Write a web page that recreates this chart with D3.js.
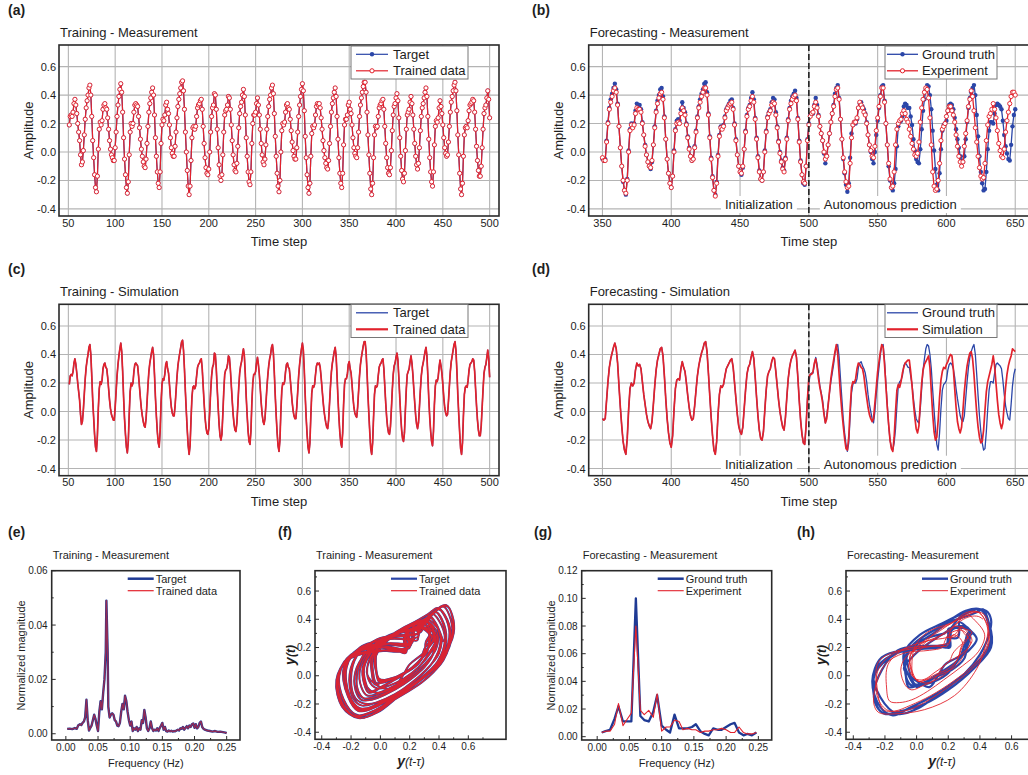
<!DOCTYPE html>
<html>
<head>
<meta charset="utf-8">
<script src="https://cdn.jsdelivr.net/npm/d3@7"></script>
<style>
  body { margin: 0; background: #fff; }
  svg text { font-family: "Liberation Sans", Arial, Helvetica, sans-serif; fill: #1e1e1e; }
</style>
</head>
<body>
<svg id="fig" width="1028" height="775"></svg>
<script>
// ---------------- data ----------------
// Training sequence, time steps 51..500 (target; the trained readout overlaps it)
const trainStart = 51;
const trainSeries = [
  0.19,0.25,0.26,0.25,0.28,0.34,0.37,0.33,0.27,0.20,
  0.14,0.08,-0.02,-0.09,-0.07,0.01,0.12,0.23,0.31,0.36,
  0.40,0.45,0.47,0.40,0.25,0.08,-0.04,-0.16,-0.25,-0.28,
  -0.17,0.02,0.16,0.21,0.19,0.22,0.30,0.33,0.34,0.31,
  0.30,0.24,0.16,0.08,0.02,-0.02,-0.04,-0.06,-0.06,0.03,
  0.14,0.25,0.33,0.39,0.44,0.48,0.42,0.28,0.10,-0.05,
  -0.16,-0.25,-0.29,-0.21,-0.02,0.14,0.20,0.18,0.20,0.28,
  0.33,0.34,0.33,0.32,0.25,0.17,0.09,0.02,-0.03,-0.07,
  -0.10,-0.11,-0.05,0.06,0.18,0.28,0.34,0.38,0.42,0.45,
  0.40,0.26,0.10,-0.03,-0.14,-0.22,-0.25,-0.14,0.06,0.19,
  0.23,0.22,0.26,0.33,0.35,0.30,0.27,0.19,0.10,0.03,
  -0.01,-0.03,-0.03,0.04,0.14,0.24,0.32,0.37,0.41,0.45,
  0.49,0.50,0.43,0.30,0.14,0.00,-0.13,-0.24,-0.30,-0.24,
  -0.06,0.10,0.17,0.18,0.16,0.18,0.25,0.31,0.33,0.34,
  0.36,0.37,0.30,0.18,0.06,-0.04,-0.11,-0.15,-0.16,-0.12,
  0.00,0.14,0.25,0.31,0.33,0.41,0.40,0.30,0.16,0.03,
  -0.09,-0.17,-0.20,-0.16,-0.02,0.14,0.26,0.29,0.30,0.33,
  0.39,0.38,0.30,0.19,0.08,-0.02,-0.09,-0.13,-0.14,-0.08,
  0.04,0.17,0.27,0.32,0.35,0.40,0.44,0.39,0.26,0.10,
  -0.03,-0.14,-0.21,-0.23,-0.14,0.06,0.20,0.26,0.26,0.28,
  0.34,0.38,0.33,0.26,0.16,0.06,-0.02,-0.07,-0.09,-0.05,
  0.05,0.16,0.25,0.32,0.37,0.40,0.45,0.47,0.41,0.27,
  0.11,-0.03,-0.15,-0.24,-0.28,-0.20,0.00,0.15,0.20,0.19,
  0.21,0.28,0.33,0.34,0.31,0.30,0.23,0.15,0.07,0.01,
  -0.03,-0.05,-0.05,0.03,0.14,0.25,0.33,0.39,0.44,0.48,
  0.43,0.29,0.11,-0.04,-0.16,-0.25,-0.29,-0.22,-0.03,0.13,
  0.18,0.17,0.19,0.26,0.32,0.34,0.33,0.34,0.31,0.24,
  0.16,0.08,0.01,-0.04,-0.08,-0.11,-0.12,-0.06,0.06,0.18,
  0.28,0.34,0.38,0.42,0.45,0.39,0.25,0.09,-0.04,-0.15,
  -0.22,-0.25,-0.15,0.05,0.19,0.23,0.23,0.26,0.33,0.35,
  0.30,0.27,0.19,0.10,0.03,-0.01,-0.03,-0.04,0.03,0.14,
  0.25,0.33,0.38,0.42,0.46,0.49,0.49,0.42,0.28,0.12,
  -0.02,-0.15,-0.26,-0.30,-0.22,-0.04,0.12,0.18,0.17,0.18,
  0.25,0.31,0.33,0.34,0.36,0.37,0.30,0.18,0.06,-0.04,
  -0.11,-0.15,-0.16,-0.11,0.01,0.15,0.26,0.32,0.34,0.38,
  0.41,0.36,0.24,0.10,-0.03,-0.13,-0.19,-0.21,-0.15,0.01,
  0.16,0.26,0.28,0.30,0.35,0.39,0.34,0.26,0.16,0.06,
  -0.03,-0.09,-0.12,-0.08,0.03,0.15,0.25,0.31,0.34,0.38,
  0.42,0.45,0.39,0.25,0.09,-0.04,-0.14,-0.21,-0.24,-0.14,
  0.05,0.18,0.22,0.21,0.24,0.31,0.36,0.32,0.27,0.19,
  0.10,0.03,-0.01,-0.03,-0.02,0.07,0.18,0.28,0.35,0.39,
  0.43,0.47,0.49,0.43,0.29,0.12,-0.02,-0.15,-0.26,-0.30,
  -0.22,-0.03,0.12,0.17,0.18,0.17,0.22,0.29,0.33,0.34,
  0.35,0.37,0.36,0.28,0.16,0.04,-0.06,-0.13,-0.17,-0.17,
  -0.10,0.03,0.16,0.27,0.31,0.33,0.38,0.43,0.37,0.24
];

// Test sequence, time steps 350..650
const testStart = 350;
const autoStart = 500;
const groundTruth = [
  -0.05,-0.06,-0.05,0.08,0.21,0.31,0.37,0.41,0.45,0.48,
  0.44,0.34,0.18,0.03,-0.10,-0.21,-0.27,-0.30,-0.19,0.01,
  0.16,0.20,0.18,0.20,0.29,0.34,0.32,0.33,0.30,0.21,
  0.12,0.05,-0.02,-0.07,-0.10,-0.12,-0.07,0.05,0.18,0.29,
  0.36,0.40,0.44,0.45,0.39,0.25,0.09,-0.05,-0.15,-0.22,
  -0.25,-0.17,0.01,0.16,0.22,0.23,0.22,0.30,0.35,0.31,
  0.28,0.20,0.11,0.03,-0.03,-0.06,-0.05,0.04,0.15,0.25,
  0.32,0.37,0.41,0.44,0.48,0.49,0.42,0.27,0.11,-0.04,
  -0.17,-0.27,-0.30,-0.21,-0.02,0.12,0.18,0.17,0.19,0.25,
  0.30,0.32,0.34,0.36,0.37,0.31,0.20,0.09,-0.02,-0.10,
  -0.14,-0.16,-0.11,0.02,0.15,0.26,0.31,0.33,0.38,0.42,
  0.37,0.24,0.10,-0.03,-0.13,-0.19,-0.20,-0.14,0.01,0.15,
  0.25,0.28,0.30,0.35,0.38,0.37,0.28,0.18,0.08,0.00,
  -0.06,-0.11,-0.13,-0.04,0.10,0.23,0.31,0.36,0.39,0.41,
  0.43,0.38,0.24,0.08,-0.06,-0.16,-0.22,-0.23,-0.10,0.09,
  0.20,0.26,0.27,0.27,0.33,0.38,0.33,0.26,0.18,0.13,
  0.08,-0.01,-0.08,-0.03,0.05,0.13,0.21,0.27,0.33,0.41,
  0.45,0.47,0.38,0.23,0.09,-0.05,-0.15,-0.23,-0.28,-0.22,
  -0.04,0.13,0.19,0.21,0.20,0.23,0.31,0.34,0.35,0.32,
  0.30,0.27,0.21,0.12,0.05,0.00,-0.05,-0.08,0.00,0.12,
  0.22,0.31,0.40,0.46,0.47,0.36,0.20,0.05,-0.10,-0.20,
  -0.25,-0.27,-0.22,-0.12,0.04,0.18,0.21,0.22,0.25,0.32,
  0.34,0.33,0.31,0.31,0.25,0.19,0.09,0.01,-0.05,-0.07,
  -0.08,0.02,0.16,0.29,0.37,0.44,0.47,0.46,0.40,0.30,
  0.15,0.01,-0.12,-0.23,-0.27,-0.15,0.02,0.15,0.19,0.20,
  0.22,0.29,0.33,0.34,0.33,0.30,0.24,0.16,0.09,0.03,
  -0.03,-0.06,-0.07,-0.03,0.09,0.21,0.31,0.38,0.42,0.45,
  0.47,0.40,0.26,0.11,-0.03,-0.14,-0.22,-0.27,-0.26,-0.14,
  0.02,0.15,0.21,0.21,0.20,0.27,0.33,0.34,0.33,0.32,
  0.30,0.22,0.12,0.04,-0.01,-0.05,-0.06,0.05,0.18,0.26,
  0.30
];
// Measured reservoir output, 350..650 (teacher-forced up to 500, autonomous after)
const experiment = [
  -0.04,-0.06,-0.06,0.07,0.20,0.30,0.35,0.39,0.43,0.45,
  0.42,0.33,0.18,0.03,-0.10,-0.20,-0.27,-0.29,-0.20,0.00,
  0.15,0.19,0.17,0.19,0.27,0.31,0.30,0.30,0.28,0.20,
  0.12,0.04,-0.02,-0.07,-0.10,-0.11,-0.06,0.05,0.17,0.28,
  0.34,0.38,0.41,0.42,0.37,0.24,0.09,-0.05,-0.15,-0.22,
  -0.25,-0.17,0.00,0.15,0.20,0.21,0.20,0.27,0.31,0.29,
  0.26,0.19,0.10,0.02,-0.03,-0.06,-0.05,0.03,0.14,0.24,
  0.31,0.35,0.39,0.42,0.45,0.45,0.40,0.26,0.10,-0.05,
  -0.18,-0.27,-0.31,-0.22,-0.03,0.11,0.17,0.16,0.18,0.24,
  0.29,0.31,0.33,0.34,0.35,0.30,0.19,0.08,-0.02,-0.10,
  -0.14,-0.15,-0.10,0.02,0.14,0.25,0.30,0.32,0.36,0.39,
  0.35,0.23,0.09,-0.04,-0.14,-0.19,-0.20,-0.14,0.00,0.14,
  0.24,0.27,0.29,0.33,0.35,0.34,0.26,0.17,0.07,-0.01,
  -0.07,-0.12,-0.14,-0.05,0.09,0.22,0.30,0.34,0.37,0.39,
  0.40,0.36,0.23,0.07,-0.07,-0.16,-0.21,-0.22,-0.10,0.08,
  0.19,0.25,0.27,0.28,0.32,0.35,0.31,0.25,0.18,0.13,
  0.08,0.00,-0.05,-0.03,0.05,0.13,0.21,0.27,0.32,0.39,
  0.44,0.45,0.37,0.23,0.09,-0.04,-0.14,-0.21,-0.25,-0.24,
  -0.08,0.10,0.19,0.21,0.21,0.24,0.31,0.35,0.33,0.31,
  0.28,0.26,0.20,0.12,0.05,0.01,-0.03,-0.04,0.04,0.15,
  0.24,0.32,0.39,0.45,0.45,0.35,0.20,0.05,-0.08,-0.19,
  -0.25,-0.24,-0.14,0.05,0.16,0.20,0.22,0.23,0.27,0.29,
  0.27,0.23,0.21,0.16,0.11,0.06,0.02,-0.02,-0.03,-0.01,
  0.07,0.21,0.31,0.37,0.42,0.45,0.44,0.38,0.24,0.05,
  -0.14,-0.24,-0.27,-0.26,-0.20,-0.08,0.08,0.16,0.18,0.20,
  0.25,0.29,0.32,0.32,0.29,0.26,0.21,0.12,0.04,-0.03,
  -0.07,-0.10,-0.07,0.04,0.13,0.22,0.32,0.37,0.43,0.39,
  0.29,0.17,0.07,-0.03,-0.11,-0.17,-0.19,-0.18,-0.08,0.08,
  0.19,0.25,0.27,0.30,0.34,0.30,0.24,0.15,0.06,0.01,
  -0.03,-0.04,0.02,0.14,0.22,0.28,0.34,0.39,0.42,0.42,
  0.40
];
// Simulated reservoir, autonomous run 500..650
const simulationAuto = [
  0.24,0.26,0.26,0.28,0.34,0.37,0.31,0.23,0.17,0.12,
  0.06,-0.02,-0.08,-0.05,0.04,0.14,0.23,0.30,0.36,0.42,
  0.47,0.40,0.26,0.12,0.00,-0.10,-0.19,-0.26,-0.27,-0.18,
  0.02,0.17,0.21,0.20,0.23,0.30,0.34,0.33,0.31,0.30,
  0.25,0.17,0.10,0.03,-0.02,-0.05,-0.07,-0.05,0.06,0.17,
  0.28,0.35,0.42,0.47,0.45,0.33,0.18,0.03,-0.09,-0.20,
  -0.26,-0.28,-0.18,0.00,0.15,0.19,0.17,0.21,0.27,0.31,
  0.34,0.35,0.36,0.36,0.28,0.18,0.06,-0.04,-0.12,-0.15,
  -0.10,0.06,0.20,0.29,0.33,0.35,0.37,0.39,0.31,0.14,
  -0.02,-0.14,-0.20,-0.18,-0.06,0.10,0.22,0.28,0.31,0.30,
  0.33,0.35,0.38,0.40,0.39,0.30,0.16,0.03,-0.07,-0.12,
  -0.15,-0.11,0.01,0.14,0.24,0.32,0.37,0.41,0.42,0.37,
  0.26,0.12,-0.01,-0.11,-0.18,-0.22,-0.21,-0.13,0.01,0.14,
  0.21,0.25,0.29,0.33,0.39,0.32,0.20,0.08,-0.02,-0.08,
  -0.12,-0.08,0.05,0.17,0.26,0.32,0.36,0.39,0.44,0.43,
  0.42
];

// Normalized FFT magnitude of the training sequence: [frequency (Hz), magnitude]
const spectrumTrain = [
  [0.002,0.0018],[0.006,0.0019],[0.010,0.0017],[0.014,0.0021],[0.017,0.0018],[0.019,0.0030],
  [0.022,0.0035],[0.024,0.0032],[0.026,0.0040],[0.028,0.0045],[0.030,0.0060],[0.032,0.0125],
  [0.034,0.0050],[0.036,0.0012],[0.038,0.0022],[0.040,0.0030],[0.042,0.0050],[0.044,0.0070],
  [0.046,0.0055],[0.048,0.0030],[0.050,0.0010],[0.052,0.0080],[0.054,0.0120],[0.056,0.0090],
  [0.058,0.0150],[0.060,0.0200],[0.062,0.0300],[0.063,0.0490],[0.065,0.0300],[0.066,0.0100],
  [0.068,0.0060],[0.070,0.0070],[0.072,0.0075],[0.074,0.0070],[0.076,0.0050],[0.078,0.0045],
  [0.080,0.0030],[0.082,0.0028],[0.084,0.0040],[0.086,0.0080],[0.088,0.0110],[0.090,0.0090],
  [0.092,0.0140],[0.094,0.0120],[0.096,0.0080],[0.098,0.0050],[0.100,0.0030],[0.102,0.0045],
  [0.104,0.0010],[0.106,0.0020],[0.108,0.0015],[0.110,0.0025],[0.112,0.0010],[0.114,0.0020],
  [0.116,0.0015],[0.118,0.0050],[0.120,0.0040],[0.122,0.0088],[0.124,0.0060],[0.126,0.0020],
  [0.128,0.0010],[0.130,0.0020],[0.132,0.0045],[0.134,0.0020],[0.136,0.0010],[0.138,0.0015],
  [0.140,0.0012],[0.142,0.0020],[0.144,0.0010],[0.146,0.0022],[0.148,0.0030],[0.150,0.0040],
  [0.152,0.0015],[0.154,0.0025],[0.156,0.0010],[0.158,0.0008],[0.160,0.0012],[0.162,0.0009],
  [0.164,0.0011],[0.166,0.0008],[0.168,0.0010],[0.170,0.0009],[0.172,0.0012],[0.174,0.0015],
  [0.176,0.0012],[0.178,0.0020],[0.180,0.0018],[0.182,0.0025],[0.184,0.0015],[0.186,0.0022],
  [0.188,0.0028],[0.190,0.0020],[0.192,0.0030],[0.194,0.0025],[0.196,0.0035],[0.198,0.0038],
  [0.200,0.0022],[0.202,0.0035],[0.204,0.0020],[0.206,0.0025],[0.208,0.0040],[0.210,0.0045],
  [0.212,0.0025],[0.214,0.0018],[0.216,0.0015],[0.220,0.0012],[0.224,0.0010],[0.228,0.0008],
  [0.232,0.0010],[0.236,0.0007],[0.240,0.0008],[0.244,0.0006],[0.248,0.0004],[0.250,0.0002]
];

// Normalized FFT magnitude of the autonomous forecast window
const spectrumTestFreq = [0.007,0.013,0.020,0.027,0.033,0.040,0.047,0.053,0.060,0.067,0.073,0.080,0.087,0.093,
  0.100,0.107,0.113,0.120,0.127,0.133,0.140,0.147,0.153,0.160,0.167,0.173,0.180,0.187,0.193,0.200,
  0.207,0.213,0.220,0.227,0.233,0.240,0.247];
const spectrumGroundTruth = [0.003,0.004,0.005,0.013,0.022,0.011,0.011,0.011,0.100,0.015,0.012,0.011,0.018,0.030,
  0.008,0.005,0.003,0.016,0.006,0.006,0.006,0.007,0.009,0.004,0.002,0.001,0.006,0.005,0.005,0.007,
  0.009,0.010,0.003,0.001,0.002,0.001,0.003];
const spectrumExperiment = [0.003,0.004,0.004,0.009,0.024,0.008,0.013,0.017,0.080,0.019,0.016,0.019,0.014,0.031,
  0.004,0.007,0.007,0.012,0.011,0.005,0.006,0.005,0.005,0.003,0.004,0.004,0.005,0.005,0.006,0.005,
  0.003,0.003,0.007,0.003,0.002,0.002,0.003];

// Tick values
const trainTimeTicks = [50,100,150,200,250,300,350,400,450,500];
const testTimeTicks = [350,400,450,500,550,600,650];
const amplitudeTicks = [-0.4,-0.2,0.0,0.2,0.4,0.6];
const freqTicks = [0.00,0.05,0.10,0.15,0.20,0.25];
const magTicksTrain = [0.00,0.02,0.04,0.06];
const magTicksTest = [0.00,0.02,0.04,0.06,0.08,0.10,0.12];
const phaseTicks = [-0.4,-0.2,0.0,0.2,0.4,0.6];
const embeddingDelay = 2;

// ---------------- drawing ----------------
const RED = '#e2222c', BLUE = '#2b46a8', NAVY = '#1f3a94', GRID = '#b4b4b4', INK = '#2a2a2a';
const svg = d3.select('#fig');
const fixed = (d, n) => (Math.abs(d) < 1e-9 ? 0 : d).toFixed(n);
let clipCount = 0;

function addClip(box) {
  const id = 'clip' + (clipCount++);
  svg.append('clipPath').attr('id', id).append('rect')
    .attr('x', box.l).attr('y', box.t).attr('width', box.r - box.l).attr('height', box.b - box.t);
  return `url(#${id})`;
}

function label(x, y, text, size, weight) {
  return svg.append('text').attr('x', x).attr('y', y).text(text)
    .style('font-size', size + 'px').style('font-weight', weight || 'normal');
}

// Large time-series panel with full grid
function timePanel(cfg) {
  const { box, xDom, xTicks } = cfg;
  const x = d3.scaleLinear().domain(xDom).range([box.l, box.r]);
  const y = d3.scaleLinear().domain([-0.45, 0.752]).range([box.b, box.t]);
  const g = svg.append('g');
  g.append('g').selectAll('line').data(xTicks).join('line')
    .attr('x1', d => x(d)).attr('x2', d => x(d)).attr('y1', box.t).attr('y2', box.b)
    .attr('stroke', GRID).attr('stroke-width', 1.1);
  g.append('g').selectAll('line').data(amplitudeTicks).join('line')
    .attr('x1', box.l).attr('x2', box.r).attr('y1', d => y(d)).attr('y2', d => y(d))
    .attr('stroke', GRID).attr('stroke-width', 1.1);
  g.append('g').selectAll('text').data(xTicks).join('text')
    .attr('x', d => x(d)).attr('y', box.b + 10.5).attr('text-anchor', 'middle')
    .style('font-size', '11px').text(d => d);
  g.append('g').selectAll('text').data(amplitudeTicks).join('text')
    .attr('x', box.l - 3).attr('y', d => y(d) + 4).attr('text-anchor', 'end')
    .style('font-size', '11px').text(d => fixed(d, 1));
  g.append('text').attr('transform', `translate(${box.l - 26},${(box.t + box.b) / 2}) rotate(-90)`)
    .attr('text-anchor', 'middle').style('font-size', '13px').text('Amplitude');
  g.append('text').attr('x', (box.l + box.r) / 2).attr('y', box.b + 30)
    .attr('text-anchor', 'middle').style('font-size', '13px').text('Time step');
  label(box.l + 1, box.t - 8, cfg.title, 13);
  label(cfg.tagX, box.t - 30, cfg.tag, 14, 'bold');
  const plot = g.append('g').attr('clip-path', addClip(box));
  return { g, plot, x, y, box };
}

function finishFrame(p) {
  p.g.append('rect').attr('x', p.box.l).attr('y', p.box.t)
    .attr('width', p.box.r - p.box.l).attr('height', p.box.b - p.box.t)
    .attr('fill', 'none').attr('stroke', INK).attr('stroke-width', 1.6);
}

function drawLine(target, pts, x, y, color, width, opacity, curve) {
  const line = d3.line().x(d => x(d[0])).y(d => y(d[1]));
  if (curve) line.curve(curve);
  target.append('path').datum(pts).attr('d', line).attr('fill', 'none')
    .attr('stroke', color).attr('stroke-width', width).attr('stroke-opacity', opacity || 1)
    .attr('stroke-linejoin', 'round');
}

function drawDots(target, pts, x, y, kind) {
  const sel = target.append('g').selectAll('circle').data(pts).join('circle')
    .attr('cx', d => x(d[0])).attr('cy', d => y(d[1]));
  if (kind === 'dot') sel.attr('r', 2.2).attr('fill', BLUE);
  else sel.attr('r', 2.1).attr('fill', '#fff').attr('stroke', RED).attr('stroke-width', 0.95);
}

function boxLegend(p, bx, by, bw, lineStart, lineEnd, textX, items) {
  const g = p.g.append('g');
  g.append('rect').attr('x', bx).attr('y', by).attr('width', bw).attr('height', 33)
    .attr('fill', '#fff').attr('stroke', '#777').attr('stroke-width', 1);
  items.forEach((it, i) => {
    const yy = by + 8.3 + i * 16.5;
    g.append('line').attr('x1', bx + lineStart).attr('x2', bx + lineEnd).attr('y1', yy).attr('y2', yy)
      .attr('stroke', it.color).attr('stroke-width', it.width);
    const mx = bx + (lineStart + lineEnd) / 2;
    if (it.marker === 'dot') g.append('circle').attr('cx', mx).attr('cy', yy).attr('r', 2.2).attr('fill', BLUE);
    if (it.marker === 'ring') g.append('circle').attr('cx', mx).attr('cy', yy).attr('r', 2.1)
      .attr('fill', '#fff').attr('stroke', RED).attr('stroke-width', 1);
    g.append('text').attr('x', bx + textX).attr('y', yy + 4.6).style('font-size', '13px').text(it.label);
  });
}

function phaseNotes(p) {
  const x500 = p.x(autoStart), yb = p.box.b - 7;
  const notes = [
    { x: x500 - 16, anchor: 'end', text: 'Initialization' },
    { x: x500 + 15, anchor: 'start', text: 'Autonomous prediction' }
  ];
  notes.forEach(n => {
    const t = p.g.append('text').attr('x', n.x).attr('y', yb).attr('text-anchor', n.anchor)
      .style('font-size', '13px').text(n.text);
    const bb = t.node().getBBox();
    p.g.insert('rect', () => t.node()).attr('x', bb.x - 4).attr('y', bb.y - 1)
      .attr('width', bb.width + 8).attr('height', bb.height + 2).attr('fill', '#fff');
  });
}

function dashedDivider(p) {
  p.g.append('line').attr('x1', p.x(autoStart)).attr('x2', p.x(autoStart))
    .attr('y1', p.box.t).attr('y2', p.box.b)
    .attr('stroke', '#222').attr('stroke-width', 1.6).attr('stroke-dasharray', '6,3');
}

const trainPts = trainSeries.map((v, i) => [trainStart + i, v]);
const gtPts = groundTruth.map((v, i) => [testStart + i, v]);
const expPts = experiment.map((v, i) => [testStart + i, v]);
const simPts = groundTruth.slice(0, autoStart - testStart).map((v, i) => [testStart + i, v])
  .concat(simulationAuto.map((v, i) => [autoStart + i, v]));

// (a) Training - Measurement
{
  const p = timePanel({ box: { l: 59, r: 499, t: 45, b: 216 }, xDom: [40, 510], xTicks: trainTimeTicks,
    title: 'Training - Measurement', tag: '(a)', tagX: 8 });
  drawLine(p.plot, trainPts, p.x, p.y, BLUE, 1.2);
  drawDots(p.plot, trainPts, p.x, p.y, 'dot');
  drawLine(p.plot, trainPts, p.x, p.y, RED, 1.2);
  drawDots(p.plot, trainPts, p.x, p.y, 'ring');
  finishFrame(p);
  boxLegend(p, 351, 46, 117, 5, 37, 42, [
    { label: 'Target', color: BLUE, width: 1.2, marker: 'dot' },
    { label: 'Trained data', color: RED, width: 1.2, marker: 'ring' }]);
}

// (b) Forecasting - Measurement
{
  const p = timePanel({ box: { l: 588.7, r: 1029, t: 45, b: 216 }, xDom: [340, 660], xTicks: testTimeTicks,
    title: 'Forecasting - Measurement', tag: '(b)', tagX: 532 });
  phaseNotes(p);
  drawLine(p.plot, gtPts, p.x, p.y, BLUE, 1.3);
  drawDots(p.plot, gtPts, p.x, p.y, 'dot');
  drawLine(p.plot, expPts, p.x, p.y, RED, 1.3);
  drawDots(p.plot, expPts, p.x, p.y, 'ring');
  dashedDivider(p);
  finishFrame(p);
  boxLegend(p, 885, 46, 112, 2, 33, 37, [
    { label: 'Ground truth', color: BLUE, width: 1.3, marker: 'dot' },
    { label: 'Experiment', color: RED, width: 1.3, marker: 'ring' }]);
}

// (c) Training - Simulation
{
  const p = timePanel({ box: { l: 59, r: 499, t: 304.3, b: 475.7 }, xDom: [40, 510], xTicks: trainTimeTicks,
    title: 'Training - Simulation', tag: '(c)', tagX: 8 });
  drawLine(p.plot, trainPts, p.x, p.y, BLUE, 1.3);
  drawLine(p.plot, trainPts, p.x, p.y, RED, 1.7);
  finishFrame(p);
  boxLegend(p, 351, 304.5, 117, 5, 37, 42, [
    { label: 'Target', color: BLUE, width: 1.3 },
    { label: 'Trained data', color: RED, width: 2.2 }]);
}

// (d) Forecasting - Simulation
{
  const p = timePanel({ box: { l: 588.7, r: 1029, t: 304.3, b: 475.7 }, xDom: [340, 660], xTicks: testTimeTicks,
    title: 'Forecasting - Simulation', tag: '(d)', tagX: 532 });
  phaseNotes(p);
  drawLine(p.plot, gtPts, p.x, p.y, BLUE, 1.3);
  drawLine(p.plot, simPts, p.x, p.y, RED, 1.7);
  dashedDivider(p);
  finishFrame(p);
  boxLegend(p, 885, 304.5, 112, 2, 33, 37, [
    { label: 'Ground truth', color: BLUE, width: 1.3 },
    { label: 'Simulation', color: RED, width: 2.2 }]);
}

// Small panels (spectra and delay embeddings)
function smallPanel(cfg) {
  const { box, xDom, yDom, xTicks, yTicks, xMinor, yMinor, xDigits, yDigits } = cfg;
  const x = d3.scaleLinear().domain(xDom).range([box.l, box.r]);
  const y = d3.scaleLinear().domain(yDom).range([box.b, box.t]);
  const g = svg.append('g');
  const tickLines = (vals, len, axis) => g.append('g').selectAll('line').data(vals).join('line')
    .attr('x1', d => axis === 'x' ? x(d) : box.l).attr('x2', d => axis === 'x' ? x(d) : box.l + len)
    .attr('y1', d => axis === 'x' ? box.b : y(d)).attr('y2', d => axis === 'x' ? box.b - len : y(d))
    .attr('stroke', INK).attr('stroke-width', 1);
  tickLines(xTicks, 4, 'x'); tickLines(xMinor, 2, 'x');
  tickLines(yTicks, 4, 'y'); tickLines(yMinor, 2, 'y');
  g.append('g').selectAll('text').data(xTicks).join('text')
    .attr('x', d => x(d)).attr('y', box.b + 11).attr('text-anchor', 'middle')
    .style('font-size', '10px').text(d => fixed(d, xDigits));
  g.append('g').selectAll('text').data(yTicks).join('text')
    .attr('x', box.l - 4).attr('y', d => y(d) + 3.6).attr('text-anchor', 'end')
    .style('font-size', '10px').text(d => fixed(d, yDigits));
  label(box.l + 1, box.t - 12, cfg.title, 11);
  label(cfg.tagX, box.t - 34, cfg.tag, 14, 'bold');
  const plot = g.append('g').attr('clip-path', addClip(box));
  return { g, plot, x, y, box };
}

function plainLegend(p, items) {
  const g = p.g.append('g');
  items.forEach((it, i) => {
    const yy = p.box.t + 8 + i * 12;
    g.append('line').attr('x1', p.box.l + 76).attr('x2', p.box.l + 102).attr('y1', yy).attr('y2', yy)
      .attr('stroke', it.color).attr('stroke-width', it.width);
    g.append('text').attr('x', p.box.l + 104).attr('y', yy + 4).style('font-size', '11px').text(it.label);
  });
}

function freqTitles(p) {
  p.g.append('text').attr('x', (p.box.l + p.box.r) / 2).attr('y', p.box.b + 27)
    .attr('text-anchor', 'middle').style('font-size', '11px').text('Frequency (Hz)');
  p.g.append('text').attr('transform', `translate(${p.box.l - 27},${(p.box.t + p.box.b) / 2}) rotate(-90)`)
    .attr('text-anchor', 'middle').style('font-size', '11px').text('Normalized magnitude');
}

function delayTitles(p) {
  const yl = p.g.append('text').attr('transform', `translate(${p.box.l - 20},${(p.box.t + p.box.b) / 2}) rotate(-90)`)
    .attr('text-anchor', 'middle');
  yl.append('tspan').style('font-size', '14px').style('font-weight', 'bold').style('font-style', 'italic').text('y');
  yl.append('tspan').style('font-size', '12px').style('font-weight', 'bold').style('font-style', 'italic').text('(t)');
  const xl = p.g.append('text').attr('x', p.box.l + 96).attr('y', p.box.b + 27).attr('text-anchor', 'middle');
  xl.append('tspan').style('font-size', '14px').style('font-weight', 'bold').style('font-style', 'italic').text('y');
  xl.append('tspan').style('font-size', '12px').style('font-style', 'italic').text('(t-\u03c4)');
}

const delayPairs = (vals, lag) => vals.slice(lag).map((v, i) => [vals[i], v]);
const smooth = d3.curveCatmullRom.alpha(0.5);

// (e) Training spectrum
{
  const p = smallPanel({ box: { l: 51.7, r: 240, t: 570.7, b: 740 }, xDom: [-0.022, 0.2707], yDom: [-0.0023, 0.06],
    xTicks: freqTicks, yTicks: magTicksTrain, xMinor: [0.025, 0.075, 0.125, 0.175, 0.225],
    yMinor: [0.01, 0.03, 0.05], xDigits: 2, yDigits: 2, title: 'Training - Measurement', tag: '(e)', tagX: 8 });
  drawLine(p.plot, spectrumTrain, p.x, p.y, NAVY, 2.4);
  drawLine(p.plot, spectrumTrain, p.x, p.y, RED, 1.4, 0.6);
  finishFrame(p);
  freqTitles(p);
  plainLegend(p, [{ label: 'Target', color: NAVY, width: 2.5 }, { label: 'Trained data', color: RED, width: 1.2 }]);
}

// (f) Training delay embedding
{
  const p = smallPanel({ box: { l: 315, r: 506, t: 570.7, b: 739.3 }, xDom: [-0.446, 0.857], yDom: [-0.45, 0.744],
    xTicks: phaseTicks, yTicks: phaseTicks, xMinor: [-0.3, -0.1, 0.1, 0.3, 0.5, 0.7],
    yMinor: [-0.3, -0.1, 0.1, 0.3, 0.5, 0.7], xDigits: 1, yDigits: 1, title: 'Training - Measurement', tag: '(f)', tagX: 278 });
  const pts = delayPairs(trainSeries, embeddingDelay);
  drawLine(p.plot, pts, p.x, p.y, BLUE, 2.0, 1, smooth);
  drawLine(p.plot, pts, p.x, p.y, RED, 1.3, 0.95, smooth);
  finishFrame(p);
  delayTitles(p);
  plainLegend(p, [{ label: 'Target', color: BLUE, width: 2.2 }, { label: 'Trained data', color: RED, width: 1.2 }]);
}

// (g) Forecast spectrum
{
  const p = smallPanel({ box: { l: 581.7, r: 771.7, t: 570.7, b: 740 }, xDom: [-0.024, 0.2707], yDom: [-0.0024, 0.12],
    xTicks: freqTicks, yTicks: magTicksTest, xMinor: [0.025, 0.075, 0.125, 0.175, 0.225],
    yMinor: [0.01, 0.03, 0.05, 0.07, 0.09, 0.11], xDigits: 2, yDigits: 2, title: 'Forecasting - Measurement', tag: '(g)', tagX: 534 });
  drawLine(p.plot, spectrumTestFreq.map((f, i) => [f, spectrumGroundTruth[i]]), p.x, p.y, NAVY, 2.3);
  drawLine(p.plot, spectrumTestFreq.map((f, i) => [f, spectrumExperiment[i]]), p.x, p.y, RED, 1.1);
  finishFrame(p);
  freqTitles(p);
  plainLegend(p, [{ label: 'Ground truth', color: NAVY, width: 2.5 }, { label: 'Experiment', color: RED, width: 1.1 }]);
}

// (h) Forecast delay embedding (autonomous window)
{
  const p = smallPanel({ box: { l: 846, r: 1029, t: 570.7, b: 739.3 }, xDom: [-0.446, 0.71], yDom: [-0.45, 0.744],
    xTicks: phaseTicks, yTicks: phaseTicks, xMinor: [-0.3, -0.1, 0.1, 0.3, 0.5],
    yMinor: [-0.3, -0.1, 0.1, 0.3, 0.5, 0.7], xDigits: 1, yDigits: 1, title: 'Forecasting- Measurement', tag: '(h)', tagX: 797 });
  const k = autoStart - testStart;
  drawLine(p.plot, delayPairs(groundTruth.slice(k), embeddingDelay), p.x, p.y, BLUE, 2.2, 1, smooth);
  drawLine(p.plot, delayPairs(experiment.slice(k), embeddingDelay), p.x, p.y, RED, 0.9, 1, smooth);
  finishFrame(p);
  delayTitles(p);
  plainLegend(p, [{ label: 'Ground truth', color: BLUE, width: 2.4 }, { label: 'Experiment', color: RED, width: 1.0 }]);
}
</script>
</body>
</html>
